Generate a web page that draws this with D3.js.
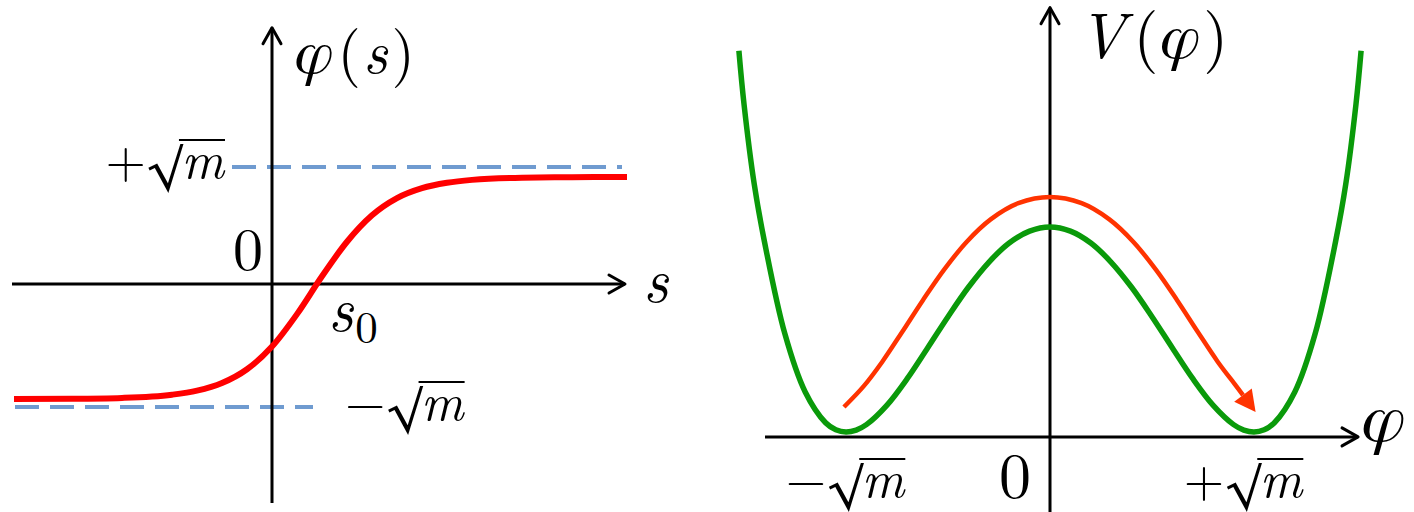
<!DOCTYPE html>
<html><head><meta charset="utf-8">
<script src="https://cdn.jsdelivr.net/npm/d3@7"></script>
<style>html,body{margin:0;padding:0;background:#fff;overflow:hidden}</style>
</head><body>
<svg id="c" width="1414" height="512"></svg>
<script>
// ---------- data: left panel (kink profile phi(s)) ----------
const kinkS   = [-5.16, -4, -3, -2, -1.5, -1, -0.5, 0, 0.5, 1, 1.5, 2, 2.5, 3, 3.5, 4, 5, 6, 7.1];
const kinkPhi = [-0.935, -0.933, -0.926, -0.900, -0.867, -0.805, -0.693, -0.509, -0.245, 0.066, 0.361, 0.587, 0.734, 0.819, 0.865, 0.890, 0.909, 0.913, 0.915];
const vacua = [1, -1];                 // +sqrt(m), -sqrt(m)
const upperDashS = [-0.8, 7.0];
const lowerDashS = [-5.14, 0.82];
const leftAxisS = [-5.2, 7.06];
const leftAxisPhi = [-1.78, 2.19];
const leftTickSigns = ["+", "−"];

// ---------- data: right panel (double well V(phi)) ----------
const wellPhi = [-1.525, -1.5, -1.45, -1.4, -1.3, -1.2, -1.1, -1.05, -1, -0.95, -0.9, -0.8, -0.7, -0.6, -0.5, -0.4, -0.3, -0.2, -0.1, 0,
                 0.1, 0.2, 0.3, 0.4, 0.5, 0.6, 0.7, 0.8, 0.9, 0.95, 1, 1.05, 1.1, 1.2, 1.3, 1.4, 1.45, 1.5, 1.525];
const wellV   = [1.86, 1.60, 1.21, 0.93, 0.48, 0.195, 0.045, 0.011, 0, 0.0095, 0.036, 0.130, 0.260, 0.410, 0.5625, 0.706, 0.828, 0.922, 0.980, 1,
                 0.980, 0.922, 0.828, 0.706, 0.5625, 0.410, 0.260, 0.130, 0.036, 0.0095, 0, 0.011, 0.045, 0.195, 0.48, 0.93, 1.21, 1.60, 1.86];
const pathPhi = [-1.010, -0.912, -0.822, -0.724, -0.623, -0.519, -0.409, -0.291, -0.155, 0, 0.155, 0.291, 0.409, 0.519, 0.623, 0.724, 0.822, 0.912, 0.946];
const pathV   = [0.122, 0.225, 0.343, 0.489, 0.643, 0.792, 0.927, 1.037, 1.116, 1.146, 1.116, 1.037, 0.927, 0.792, 0.643, 0.489, 0.343, 0.225, 0.180];
const rightAxisPhi = [-1.397, 1.51];
const rightAxisV = [-0.39, 2.07];
const rightAxisLevel = -0.024;
const rightTicks = [-1, 0, 1];
const rightTickSigns = ["−", "0", "+"];

// ---------- setup ----------
const svg = d3.select("#c");
const LM = '"Latin Modern Roman"';
const FS = '"FreeSerif"';
const PHI = "φ";

const sX = d3.scaleLinear().domain([-5.2, 7.2]).range([12, 632]);
const pY = d3.scaleLinear().domain([-1, 0, 1]).range([407, 284, 167]);
const fX = d3.scaleLinear().domain([-1.6, 1.6]).range([723.6, 1376.4]);
const vY = d3.scaleLinear().domain([0, 1]).range([432, 227]);

function txt(g, x, y, s, size, fam, italic) {
  const t = g.append("text").attr("x", x).attr("y", y).text(s)
    .style("font-family", fam).style("font-size", size + "px").attr("fill", "#000");
  if (italic) t.style("font-style", "italic");
  return t;
}
function w(t) { return t.node().getComputedTextLength(); }

// chain of pieces [str, size, fam, italic, gapBefore, dy]
function chain(g, x, y, pieces, anchor) {
  const grp = g.append("g");
  let cx = 0; const els = [];
  pieces.forEach(p => {
    cx += p[4] || 0;
    const t = txt(grp, cx, y + (p[5] || 0), p[0], p[1], p[2], p[3]);
    els.push({ t, x: cx, w: w(t) });
    cx += w(t);
  });
  let x0 = x;
  if (anchor === "end") x0 = x - cx; else if (anchor === "middle") x0 = x - cx / 2;
  grp.attr("transform", `translate(${x0},0)`);
  return { grp, els, x0, width: cx };
}

function sqrtLabel(g, sign, x, y, anchor) {
  const F = 52, Fr = 54;
  const c = chain(g, x, y + 6, [[sign, F, LM, false, 0, -6], ["√", Fr, FS, false, 1, 0], ["m", F, LM, true, 1, -6]], anchor);
  const r = c.els[1], m = c.els[2];
  c.grp.append("line").attr("x1", r.x + r.w - 1.5).attr("x2", m.x + m.w + 1)
    .attr("y1", y - 38).attr("y2", y - 38).attr("stroke", "#000").attr("stroke-width", 2);
}

function chevron(g, x, y, dir) {
  const a = 16, b = 9;
  const d = dir === "up"
    ? `M${x - b},${y + a}L${x},${y}L${x + b},${y + a}`
    : `M${x - a},${y - b}L${x},${y}L${x - a},${y + b}`;
  g.append("path").attr("d", d).attr("fill", "none").attr("stroke", "#000")
    .attr("stroke-width", 3).attr("stroke-linejoin", "round").attr("stroke-linecap", "round");
}

// ---------- left panel ----------
const L = svg.append("g");
L.append("line").attr("x1", sX(upperDashS[0])).attr("x2", sX(upperDashS[1]))
  .attr("y1", pY(vacua[0])).attr("y2", pY(vacua[0]))
  .attr("stroke", "#6f9bd0").attr("stroke-width", 4).attr("stroke-dasharray", "24 11");
L.append("line").attr("x1", sX(lowerDashS[0])).attr("x2", sX(lowerDashS[1]))
  .attr("y1", pY(vacua[1])).attr("y2", pY(vacua[1]))
  .attr("stroke", "#6f9bd0").attr("stroke-width", 4).attr("stroke-dasharray", "24 11");
L.append("line").attr("x1", sX(leftAxisS[0])).attr("x2", sX(leftAxisS[1]))
  .attr("y1", pY(0)).attr("y2", pY(0)).attr("stroke", "#000").attr("stroke-width", 3);
chevron(L, sX(leftAxisS[1]), pY(0), "right");
L.append("line").attr("x1", sX(0)).attr("x2", sX(0))
  .attr("y1", pY(leftAxisPhi[0])).attr("y2", pY(leftAxisPhi[1])).attr("stroke", "#000").attr("stroke-width", 3);
chevron(L, sX(0), pY(leftAxisPhi[1]), "up");
const kinkLine = d3.line().x((d, i) => sX(kinkS[i])).y(d => pY(d)).curve(d3.curveMonotoneX);
L.append("path").attr("d", kinkLine(kinkPhi)).attr("fill", "none")
  .attr("stroke", "#ff0000").attr("stroke-width", 6);

chain(L, 295, 73, [[PHI, 62, FS, true, 0], ["(", 60, LM, false, 4], ["s", 60, LM, true, 2], [")", 60, LM, false, 4]], "start");
txt(L, sX(0) - 39, pY(0) - 14, "0", 60, LM, false);
txt(L, sX(leftAxisS[1]) + 18, pY(0) + 18, "s", 62, LM, true);
chain(L, 328, 331, [["s", 62, LM, true, 0], ["0", 45, LM, false, 2, 12]], "start");
sqrtLabel(L, leftTickSigns[0], sX(upperDashS[0]) - 8, pY(vacua[0]) + 11, "end");
sqrtLabel(L, leftTickSigns[1], sX(lowerDashS[1]) + 32, pY(vacua[1]) + 13, "start");

// ---------- right panel ----------
const R = svg.append("g");
R.append("line").attr("x1", fX(rightAxisPhi[0])).attr("x2", fX(rightAxisPhi[1]))
  .attr("y1", vY(rightAxisLevel)).attr("y2", vY(rightAxisLevel)).attr("stroke", "#000").attr("stroke-width", 3);
chevron(R, fX(rightAxisPhi[1]), vY(rightAxisLevel), "right");
R.append("line").attr("x1", fX(0)).attr("x2", fX(0))
  .attr("y1", vY(rightAxisV[0])).attr("y2", vY(rightAxisV[1])).attr("stroke", "#000").attr("stroke-width", 3);
chevron(R, fX(0), vY(rightAxisV[1]), "up");
const wellLine = d3.line().x((d, i) => fX(wellPhi[i])).y(d => vY(d)).curve(d3.curveCatmullRom.alpha(0.5));
R.append("path").attr("d", wellLine(wellV)).attr("fill", "none")
  .attr("stroke", "#0a9a0a").attr("stroke-width", 5.5);
const pathLine = d3.line().x((d, i) => fX(pathPhi[i])).y(d => vY(d)).curve(d3.curveCatmullRom.alpha(0.5));
R.append("path").attr("d", pathLine(pathV)).attr("fill", "none")
  .attr("stroke", "#ff3300").attr("stroke-width", 4.5);
{
  const n = pathPhi.length;
  const ex = fX(pathPhi[n - 1]), ey = vY(pathV[n - 1]);
  const px = fX(pathPhi[n - 2]), py = vY(pathV[n - 2]);
  let dx = ex - px, dy = ey - py; const len = Math.hypot(dx, dy); dx /= len; dy /= len;
  const Lh = 21, W = 11;
  const tip = [ex + dx * Lh, ey + dy * Lh];
  const c1 = [ex + dy * W, ey - dx * W], c2 = [ex - dy * W, ey + dx * W];
  R.append("path").attr("d", `M${tip}L${c1}L${c2}Z`).attr("fill", "#ff3300");
}
chain(R, 1078, 58, [["V", 64, LM, true, 0], ["(", 64, LM, false, 8], [PHI, 64, FS, true, 2], [")", 64, LM, false, 3]], "start");
txt(R, fX(rightAxisPhi[1]) + 4, vY(rightAxisLevel) + 4, PHI, 70, FS, true);
rightTicks.forEach((t, i) => {
  if (t === 0) txt(R, fX(t) - 51, 498, rightTickSigns[i], 64, LM, false);
  else sqrtLabel(R, rightTickSigns[i], fX(t) + (t < 0 ? -1 : -11), 497, "middle");
});
</script>
</body></html>
